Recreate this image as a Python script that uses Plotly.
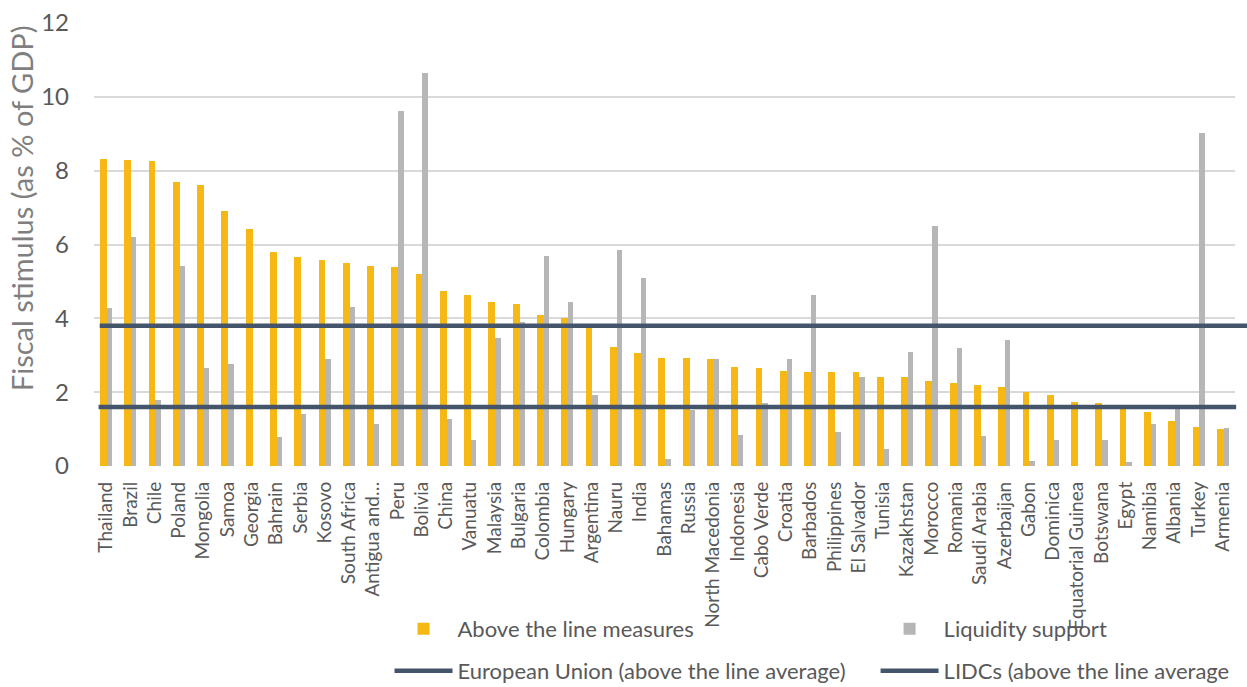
import plotly.graph_objects as go

# Fiscal stimulus by country, % of GDP
countries = [
    "Thailand", "Brazil", "Chile", "Poland", "Mongolia", "Samoa", "Georgia",
    "Bahrain", "Serbia", "Kosovo", "South Africa", "Antigua and…", "Peru",
    "Bolivia", "China", "Vanuatu", "Malaysia", "Bulgaria", "Colombia",
    "Hungary", "Argentina", "Nauru", "India", "Bahamas", "Russia",
    "North Macedonia", "Indonesia", "Cabo Verde", "Croatia", "Barbados",
    "Philippines", "El Salvador", "Tunisia", "Kazakhstan", "Morocco",
    "Romania", "Saudi Arabia", "Azerbaijan", "Gabon", "Dominica",
    "Equatorial Guinea", "Botswana", "Egypt", "Namibia", "Albania",
    "Turkey", "Armenia",
]

above_the_line = [
    8.31, 8.28, 8.25, 7.68, 7.60, 6.90, 6.43, 5.81, 5.65, 5.59,
    5.51, 5.43, 5.38, 5.21, 4.75, 4.64, 4.43, 4.40, 4.10, 4.02,
    3.77, 3.23, 3.07, 2.93, 2.93, 2.91, 2.69, 2.66, 2.58, 2.55,
    2.55, 2.55, 2.42, 2.41, 2.31, 2.26, 2.20, 2.15, 2.00, 1.93,
    1.74, 1.71, 1.57, 1.46, 1.23, 1.07, 1.00,
]

liquidity_support = [
    4.29, 6.19, 1.79, 5.43, 2.66, 2.77, 0.00, 0.79, 1.41, 2.91,
    4.32, 1.14, 9.61, 10.64, 1.28, 0.71, 3.47, 3.91, 5.70, 4.43,
    1.93, 5.86, 5.10, 0.19, 1.52, 2.90, 0.84, 1.71, 2.90, 4.62,
    0.92, 2.42, 0.46, 3.10, 6.49, 3.21, 0.82, 3.42, 0.14, 0.71,
    0.00, 0.71, 0.12, 1.13, 1.65, 9.01, 1.03,
]

eu_average = 3.8
lidc_average = 1.6

y_ticks = [0, 2, 4, 6, 8, 10, 12]

ORANGE = "#F6B814"
GREY = "#B6B6B6"
SLATE = "#44546A"
TEXT = "#595959"
FONT = "Lato"

fig = go.Figure()

fig.add_trace(go.Bar(
    x=countries, y=liquidity_support, name="Liquidity support",
    marker=dict(color=GREY, line=dict(width=0)),
    offset=0.03, width=0.22, legend="legend2", showlegend=True,
))
fig.add_trace(go.Bar(
    x=countries, y=above_the_line, name="Above the line measures",
    marker=dict(color=ORANGE, line=dict(width=0)),
    offset=-0.25, width=0.28, legend="legend", showlegend=True,
))

# Reference averages as horizontal rules
fig.add_shape(
    type="line", xref="paper", yref="y", x0=0.005, x1=1.02,
    y0=eu_average, y1=eu_average, line=dict(color=SLATE, width=4.5),
    showlegend=True, name="European Union (above the line average)",
    legend="legend3", layer="above",
)
fig.add_shape(
    type="line", xref="paper", yref="y", x0=0.004, x1=1.001,
    y0=lidc_average, y1=lidc_average, line=dict(color=SLATE, width=4.5),
    showlegend=True, name="LIDCs (above the line average",
    legend="legend4", layer="above",
)

legend_common = dict(
    orientation="v", xanchor="left", yanchor="top",
    font=dict(family=FONT, size=22, color=TEXT),
    itemwidth=58, bgcolor="rgba(0,0,0,0)",
)
ROW1_Y, ROW2_Y = -0.3205, -0.4153
COL1_X, COL2_X = 0.259, 0.685

# Axis title placed as rotated text so it can sit where the layout needs it
fig.add_annotation(
    text="Fiscal stimulus (as % of GDP)", textangle=-90,
    xref="paper", yref="paper", x=-0.064, y=0.582,
    xanchor="center", yanchor="middle", showarrow=False,
    font=dict(family=FONT, size=29, color="#7F7F7F"),
)

fig.update_layout(
    width=1247, height=687,
    margin=dict(l=94, r=12, t=23, b=221, autoexpand=False),
    paper_bgcolor="white", plot_bgcolor="white",
    barmode="group", bargap=0, showlegend=True,
    font=dict(family=FONT, color=TEXT),
    legend=dict(x=COL1_X, y=ROW1_Y, **legend_common),
    legend2=dict(x=COL2_X, y=ROW1_Y, **legend_common),
    legend3=dict(x=COL1_X, y=ROW2_Y, **legend_common),
    legend4=dict(x=COL2_X, y=ROW2_Y, **legend_common),
    xaxis=dict(
        type="category", tickangle=-90, showgrid=False, showline=False,
        ticks="", ticklabelstandoff=11,
        tickfont=dict(family=FONT, size=19, color=TEXT),
        automargin=False,
    ),
    yaxis=dict(
        range=[0, 12], tickvals=y_ticks, showgrid=True,
        gridcolor="#D9D9D9", gridwidth=1.5, zeroline=False, showline=False,
        ticks="", ticklabelstandoff=24,
        tickfont=dict(family=FONT, size=24, color=TEXT),
        automargin=False,
    ),
)

fig.write_html("out.html")
